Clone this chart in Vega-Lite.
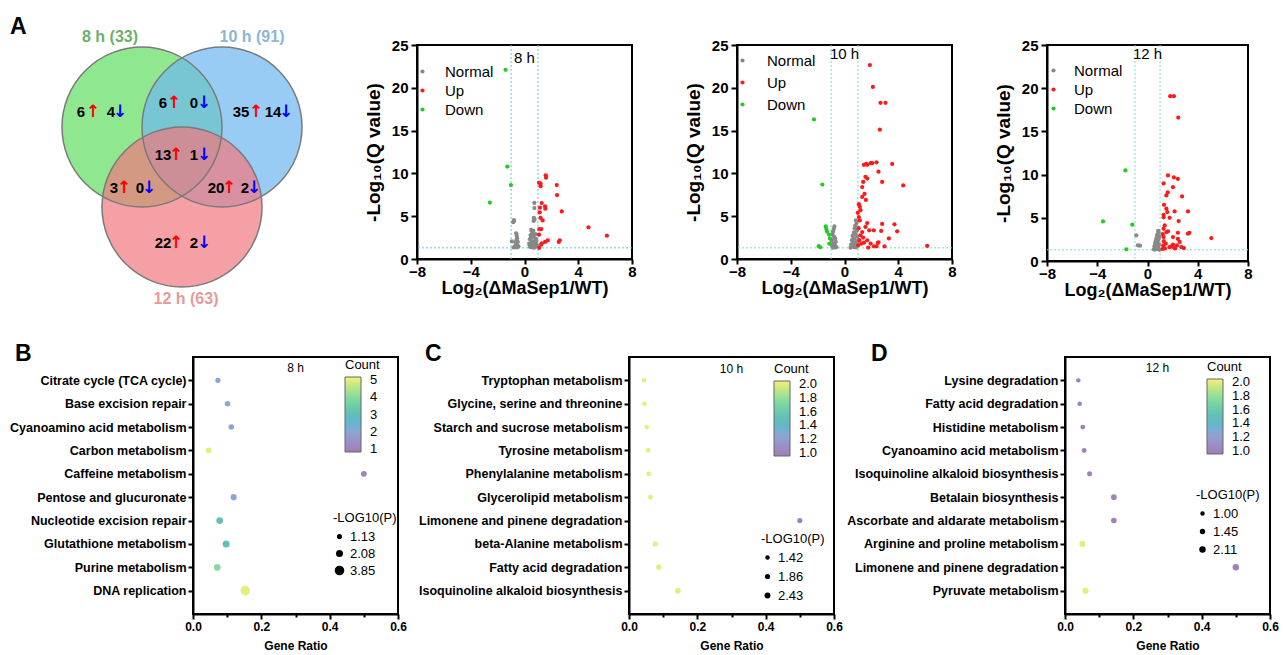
{
  "$schema": "https://vega.github.io/schema/vega-lite/v6.json",
  "background": "white",
  "padding": {"left": 0, "top": 16, "right": 0, "bottom": 0},
  "autosize": {"type": "pad"},
  "bounds": "flush",
  "spacing": 312,
  "resolve": {"scale": {"color": "independent", "size": "independent"}},
  "config": {
    "font": "Liberation Sans",
    "view": {"stroke": null},
    "axis": {"labelColor": "black", "titleColor": "black", "domainColor": "black", "tickColor": "black", "grid": false, "labelFontWeight": "bold", "titleFontWeight": "bold", "labelFont": "Liberation Sans, DejaVu Sans", "titleFont": "Liberation Sans, DejaVu Sans", "labelFlush": false, "labelOverlap": false},
    "legend": {"labelFont": "Liberation Sans", "titleFont": "Liberation Sans", "labelColor": "black", "titleColor": "black", "titleFontWeight": "normal", "labelOverlap": false},
    "title": {"font": "Liberation Sans", "color": "black", "fontWeight": "normal"}
  },
  "datasets": {
    "venn_sets": [
      {"set": "8 h", "u": -0.5, "v": 0.5},
      {"set": "10 h", "u": 0.5, "v": 0.5},
      {"set": "12 h", "u": 0, "v": -0.5}
    ],
    "venn_titles": [
      {"set": "8 h", "label": "8 h (33)", "u": -0.9, "v": 1.625},
      {"set": "10 h", "label": "10 h (91)", "u": 0.875, "v": 1.625},
      {"set": "12 h", "label": "12 h (63)", "u": 0.05, "v": -1.65}
    ],
    "venn_counts": [
      {"n": "6", "u": -1.2625, "v": 0.6875},
      {"n": "4", "u": -0.8875, "v": 0.6875},
      {"n": "6", "u": -0.2375, "v": 0.8},
      {"n": "0", "u": 0.15, "v": 0.8},
      {"n": "35", "u": 0.7375, "v": 0.6875},
      {"n": "14", "u": 1.1375, "v": 0.6875},
      {"n": "13", "u": -0.2375, "v": 0.15},
      {"n": "1", "u": 0.15, "v": 0.15},
      {"n": "3", "u": -0.85, "v": -0.2625},
      {"n": "0", "u": -0.525, "v": -0.2625},
      {"n": "20", "u": 0.425, "v": -0.2625},
      {"n": "2", "u": 0.7875, "v": -0.2625},
      {"n": "22", "u": -0.2375, "v": -0.95},
      {"n": "2", "u": 0.15, "v": -0.95}
    ],
    "venn_arrows": [
      {"dir": "up", "sym": "↑", "u": -1.1125, "v": 0.6875},
      {"dir": "down", "sym": "↓", "u": -0.775, "v": 0.6875},
      {"dir": "up", "sym": "↑", "u": -0.1, "v": 0.8},
      {"dir": "down", "sym": "↓", "u": 0.275, "v": 0.8},
      {"dir": "up", "sym": "↑", "u": 0.925, "v": 0.6875},
      {"dir": "down", "sym": "↓", "u": 1.3, "v": 0.6875},
      {"dir": "up", "sym": "↑", "u": -0.075, "v": 0.15},
      {"dir": "down", "sym": "↓", "u": 0.275, "v": 0.15},
      {"dir": "up", "sym": "↑", "u": -0.725, "v": -0.2625},
      {"dir": "down", "sym": "↓", "u": -0.4125, "v": -0.2625},
      {"dir": "up", "sym": "↑", "u": 0.5875, "v": -0.2625},
      {"dir": "down", "sym": "↓", "u": 0.9, "v": -0.2625},
      {"dir": "up", "sym": "↑", "u": -0.075, "v": -0.95},
      {"dir": "down", "sym": "↓", "u": 0.275, "v": -0.95}
    ],
    "v8": [
      {"x": -0.84, "y": 4.3, "g": "Normal"}, {"x": -0.78, "y": 4.55, "g": "Normal"}, {"x": -0.8, "y": 4.4, "g": "Normal"}, {"x": -0.94, "y": 2.05, "g": "Normal"},
      {"x": -0.62, "y": 3.0, "g": "Normal"}, {"x": -0.58, "y": 2.7, "g": "Normal"}, {"x": -0.55, "y": 2.4, "g": "Normal"}, {"x": -0.6, "y": 2.2, "g": "Normal"},
      {"x": -0.66, "y": 1.9, "g": "Normal"}, {"x": -0.52, "y": 1.6, "g": "Normal"}, {"x": -0.7, "y": 1.5, "g": "Normal"}, {"x": -0.8, "y": 1.35, "g": "Normal"},
      {"x": -0.45, "y": 1.45, "g": "Normal"}, {"x": -0.62, "y": 1.75, "g": "Normal"}, {"x": -0.5, "y": 2.0, "g": "Normal"}, {"x": -0.72, "y": 1.4, "g": "Normal"},
      {"x": -0.56, "y": 1.35, "g": "Normal"},
      {"x": 0.73, "y": 6.55, "g": "Normal"}, {"x": 0.74, "y": 5.95, "g": "Normal"}, {"x": 0.7, "y": 4.8, "g": "Normal"}, {"x": 0.68, "y": 4.45, "g": "Normal"},
      {"x": 0.75, "y": 4.6, "g": "Normal"}, {"x": 0.5, "y": 3.4, "g": "Normal"}, {"x": 0.55, "y": 3.2, "g": "Normal"}, {"x": 0.6, "y": 3.0, "g": "Normal"},
      {"x": 0.45, "y": 2.8, "g": "Normal"}, {"x": 0.65, "y": 2.6, "g": "Normal"}, {"x": 0.8, "y": 2.4, "g": "Normal"}, {"x": 0.4, "y": 2.3, "g": "Normal"},
      {"x": 0.55, "y": 2.1, "g": "Normal"}, {"x": 0.7, "y": 2.0, "g": "Normal"}, {"x": 0.85, "y": 1.9, "g": "Normal"}, {"x": 0.35, "y": 1.8, "g": "Normal"},
      {"x": 0.5, "y": 1.7, "g": "Normal"}, {"x": 0.62, "y": 1.6, "g": "Normal"}, {"x": 0.78, "y": 1.5, "g": "Normal"}, {"x": 0.9, "y": 1.45, "g": "Normal"},
      {"x": 0.42, "y": 1.4, "g": "Normal"}, {"x": 0.58, "y": 1.35, "g": "Normal"}, {"x": 0.72, "y": 1.32, "g": "Normal"}, {"x": 0.95, "y": 1.6, "g": "Normal"},
      {"x": 0.88, "y": 2.2, "g": "Normal"}, {"x": 0.48, "y": 2.5, "g": "Normal"}, {"x": 0.66, "y": 3.3, "g": "Normal"}, {"x": 0.38, "y": 1.55, "g": "Normal"},
      {"x": 0.82, "y": 2.9, "g": "Normal"},
      {"x": -1.41, "y": 22.1, "g": "Down"}, {"x": -1.28, "y": 10.8, "g": "Down"}, {"x": -1.01, "y": 8.64, "g": "Down"}, {"x": -2.58, "y": 6.6, "g": "Down"},
      {"x": 1.58, "y": 9.77, "g": "Up"}, {"x": 1.6, "y": 9.5, "g": "Up"}, {"x": 1.08, "y": 8.9, "g": "Up"}, {"x": 1.2, "y": 8.8, "g": "Up"},
      {"x": 1.2, "y": 8.5, "g": "Up"}, {"x": 2.4, "y": 8.64, "g": "Up"}, {"x": 2.42, "y": 7.47, "g": "Up"}, {"x": 1.28, "y": 6.54, "g": "Up"},
      {"x": 1.15, "y": 6.0, "g": "Up"}, {"x": 1.53, "y": 6.15, "g": "Up"}, {"x": 1.55, "y": 5.88, "g": "Up"}, {"x": 1.13, "y": 5.45, "g": "Up"},
      {"x": 2.77, "y": 5.56, "g": "Up"}, {"x": 1.2, "y": 4.8, "g": "Up"}, {"x": 1.35, "y": 4.5, "g": "Up"}, {"x": 1.1, "y": 3.5, "g": "Up"},
      {"x": 1.25, "y": 3.5, "g": "Up"}, {"x": 4.76, "y": 3.7, "g": "Up"}, {"x": 6.13, "y": 2.72, "g": "Up"}, {"x": 1.08, "y": 2.84, "g": "Up"},
      {"x": 1.73, "y": 2.18, "g": "Up"}, {"x": 1.53, "y": 2.0, "g": "Up"}, {"x": 1.28, "y": 1.83, "g": "Up"}, {"x": 2.62, "y": 2.18, "g": "Up"},
      {"x": 2.55, "y": 2.0, "g": "Up"}, {"x": 1.1, "y": 1.3, "g": "Up"}, {"x": 1.25, "y": 1.67, "g": "Up"}
    ],
    "v10": [
      {"x": -0.75, "y": 3.8, "g": "Normal"}, {"x": -0.8, "y": 3.5, "g": "Normal"}, {"x": -0.85, "y": 3.2, "g": "Normal"}, {"x": -0.9, "y": 2.9, "g": "Normal"},
      {"x": -0.78, "y": 2.6, "g": "Normal"}, {"x": -0.7, "y": 2.4, "g": "Normal"}, {"x": -0.95, "y": 2.2, "g": "Normal"}, {"x": -0.65, "y": 2.0, "g": "Normal"},
      {"x": -0.82, "y": 1.8, "g": "Normal"}, {"x": -0.72, "y": 1.6, "g": "Normal"}, {"x": -0.9, "y": 1.5, "g": "Normal"}, {"x": -0.6, "y": 1.4, "g": "Normal"},
      {"x": -0.68, "y": 1.35, "g": "Normal"}, {"x": -0.85, "y": 1.32, "g": "Normal"}, {"x": -0.98, "y": 1.7, "g": "Normal"},
      {"x": 0.85, "y": 4.5, "g": "Normal"}, {"x": 0.9, "y": 4.2, "g": "Normal"}, {"x": 0.8, "y": 3.9, "g": "Normal"}, {"x": 0.75, "y": 3.6, "g": "Normal"},
      {"x": 0.92, "y": 3.3, "g": "Normal"}, {"x": 0.7, "y": 3.1, "g": "Normal"}, {"x": 0.82, "y": 2.9, "g": "Normal"}, {"x": 0.6, "y": 2.7, "g": "Normal"},
      {"x": 0.95, "y": 2.6, "g": "Normal"}, {"x": 0.72, "y": 2.4, "g": "Normal"}, {"x": 0.55, "y": 2.2, "g": "Normal"}, {"x": 0.88, "y": 2.1, "g": "Normal"},
      {"x": 0.65, "y": 1.9, "g": "Normal"}, {"x": 0.78, "y": 1.8, "g": "Normal"}, {"x": 0.5, "y": 1.7, "g": "Normal"}, {"x": 0.92, "y": 1.6, "g": "Normal"},
      {"x": 0.6, "y": 1.5, "g": "Normal"}, {"x": 0.7, "y": 1.4, "g": "Normal"}, {"x": 0.85, "y": 1.35, "g": "Normal"}, {"x": 0.45, "y": 1.32, "g": "Normal"},
      {"x": 0.98, "y": 1.9, "g": "Normal"}, {"x": 0.62, "y": 1.65, "g": "Normal"},
      {"x": -2.27, "y": 16.3, "g": "Down"}, {"x": -1.65, "y": 8.7, "g": "Down"}, {"x": -1.4, "y": 3.8, "g": "Down"}, {"x": -1.35, "y": 3.5, "g": "Down"},
      {"x": -1.3, "y": 3.2, "g": "Down"}, {"x": -1.15, "y": 2.85, "g": "Down"}, {"x": -1.08, "y": 2.4, "g": "Down"}, {"x": -1.13, "y": 1.8, "g": "Down"},
      {"x": -1.92, "y": 1.5, "g": "Down"}, {"x": -1.8, "y": 1.37, "g": "Down"},
      {"x": 1.89, "y": 22.66, "g": "Up"}, {"x": 2.11, "y": 20.1, "g": "Up"}, {"x": 2.68, "y": 18.25, "g": "Up"}, {"x": 3.05, "y": 18.25, "g": "Up"},
      {"x": 2.63, "y": 15.1, "g": "Up"}, {"x": 1.44, "y": 11.0, "g": "Up"}, {"x": 1.61, "y": 11.1, "g": "Up"}, {"x": 1.94, "y": 11.2, "g": "Up"},
      {"x": 2.06, "y": 11.2, "g": "Up"}, {"x": 2.38, "y": 11.3, "g": "Up"}, {"x": 1.69, "y": 11.0, "g": "Up"}, {"x": 3.55, "y": 11.1, "g": "Up"},
      {"x": 2.53, "y": 10.2, "g": "Up"}, {"x": 1.56, "y": 9.6, "g": "Up"}, {"x": 1.69, "y": 9.4, "g": "Up"}, {"x": 1.39, "y": 9.0, "g": "Up"},
      {"x": 1.32, "y": 8.4, "g": "Up"}, {"x": 2.8, "y": 9.0, "g": "Up"}, {"x": 4.37, "y": 8.6, "g": "Up"}, {"x": 1.49, "y": 7.6, "g": "Up"},
      {"x": 1.32, "y": 7.25, "g": "Up"}, {"x": 1.59, "y": 6.9, "g": "Up"}, {"x": 1.07, "y": 6.4, "g": "Up"}, {"x": 1.14, "y": 6.1, "g": "Up"},
      {"x": 1.19, "y": 5.7, "g": "Up"}, {"x": 0.99, "y": 5.4, "g": "Up"}, {"x": 1.07, "y": 4.9, "g": "Up"}, {"x": 1.14, "y": 4.5, "g": "Up"},
      {"x": 1.69, "y": 4.2, "g": "Up"}, {"x": 1.56, "y": 3.75, "g": "Up"}, {"x": 1.84, "y": 3.35, "g": "Up"}, {"x": 1.32, "y": 3.15, "g": "Up"},
      {"x": 2.18, "y": 3.35, "g": "Up"}, {"x": 2.8, "y": 4.1, "g": "Up"}, {"x": 3.72, "y": 4.05, "g": "Up"}, {"x": 3.92, "y": 3.24, "g": "Up"},
      {"x": 3.3, "y": 2.4, "g": "Up"}, {"x": 2.73, "y": 3.28, "g": "Up"}, {"x": 1.19, "y": 2.77, "g": "Up"}, {"x": 1.39, "y": 2.5, "g": "Up"},
      {"x": 1.69, "y": 2.18, "g": "Up"}, {"x": 1.27, "y": 1.8, "g": "Up"}, {"x": 1.94, "y": 1.8, "g": "Up"}, {"x": 2.18, "y": 1.48, "g": "Up"},
      {"x": 2.53, "y": 1.95, "g": "Up"}, {"x": 1.76, "y": 1.33, "g": "Up"}, {"x": 2.38, "y": 1.48, "g": "Up"}, {"x": 2.98, "y": 1.48, "g": "Up"},
      {"x": 6.15, "y": 1.52, "g": "Up"}, {"x": 2.48, "y": 1.87, "g": "Up"}, {"x": 1.05, "y": 3.6, "g": "Up"}, {"x": 1.1, "y": 2.2, "g": "Up"},
      {"x": 1.02, "y": 1.6, "g": "Up"}, {"x": 1.45, "y": 1.9, "g": "Up"}
    ],
    "v12": [
      {"x": -0.89, "y": 2.97, "g": "Normal"}, {"x": -0.76, "y": 1.81, "g": "Normal"}, {"x": -0.6, "y": 1.77, "g": "Normal"},
      {"x": 0.85, "y": 3.5, "g": "Normal"}, {"x": 0.9, "y": 3.3, "g": "Normal"}, {"x": 0.8, "y": 3.1, "g": "Normal"}, {"x": 0.75, "y": 2.9, "g": "Normal"},
      {"x": 0.95, "y": 2.8, "g": "Normal"}, {"x": 0.7, "y": 2.6, "g": "Normal"}, {"x": 0.88, "y": 2.5, "g": "Normal"}, {"x": 0.65, "y": 2.3, "g": "Normal"},
      {"x": 0.8, "y": 2.2, "g": "Normal"}, {"x": 0.6, "y": 2.0, "g": "Normal"}, {"x": 0.92, "y": 1.9, "g": "Normal"}, {"x": 0.72, "y": 1.8, "g": "Normal"},
      {"x": 0.55, "y": 1.7, "g": "Normal"}, {"x": 0.85, "y": 1.6, "g": "Normal"}, {"x": 0.65, "y": 1.5, "g": "Normal"}, {"x": 0.78, "y": 1.4, "g": "Normal"},
      {"x": 0.5, "y": 1.35, "g": "Normal"}, {"x": 0.95, "y": 1.3, "g": "Normal"}, {"x": 0.6, "y": 1.32, "g": "Normal"}, {"x": 0.7, "y": 1.45, "g": "Normal"},
      {"x": -1.76, "y": 10.48, "g": "Down"}, {"x": -3.54, "y": 4.58, "g": "Down"}, {"x": -1.21, "y": 4.2, "g": "Down"}, {"x": -1.68, "y": 1.35, "g": "Down"},
      {"x": 1.81, "y": 19.07, "g": "Up"}, {"x": 2.1, "y": 19.07, "g": "Up"}, {"x": 2.45, "y": 16.6, "g": "Up"}, {"x": 1.63, "y": 9.9, "g": "Up"},
      {"x": 2.1, "y": 9.67, "g": "Up"}, {"x": 2.42, "y": 9.5, "g": "Up"}, {"x": 1.28, "y": 8.98, "g": "Up"}, {"x": 2.03, "y": 8.55, "g": "Up"},
      {"x": 1.61, "y": 7.93, "g": "Up"}, {"x": 1.5, "y": 7.59, "g": "Up"}, {"x": 2.75, "y": 7.47, "g": "Up"}, {"x": 1.31, "y": 6.5, "g": "Up"},
      {"x": 1.5, "y": 6.05, "g": "Up"}, {"x": 1.58, "y": 5.66, "g": "Up"}, {"x": 2.16, "y": 5.74, "g": "Up"}, {"x": 1.76, "y": 5.0, "g": "Up"},
      {"x": 3.22, "y": 5.74, "g": "Up"}, {"x": 1.28, "y": 5.35, "g": "Up"}, {"x": 1.28, "y": 5.05, "g": "Up"}, {"x": 2.48, "y": 4.62, "g": "Up"},
      {"x": 1.37, "y": 4.12, "g": "Up"}, {"x": 1.28, "y": 3.74, "g": "Up"}, {"x": 1.5, "y": 3.35, "g": "Up"}, {"x": 1.63, "y": 3.43, "g": "Up"},
      {"x": 3.33, "y": 3.27, "g": "Up"}, {"x": 3.22, "y": 3.16, "g": "Up"}, {"x": 2.03, "y": 2.77, "g": "Up"}, {"x": 2.42, "y": 3.27, "g": "Up"},
      {"x": 1.28, "y": 2.77, "g": "Up"}, {"x": 2.42, "y": 2.55, "g": "Up"}, {"x": 2.56, "y": 2.2, "g": "Up"}, {"x": 2.03, "y": 1.9, "g": "Up"},
      {"x": 2.35, "y": 1.8, "g": "Up"}, {"x": 2.7, "y": 1.6, "g": "Up"}, {"x": 2.9, "y": 1.5, "g": "Up"}, {"x": 2.2, "y": 1.45, "g": "Up"},
      {"x": 1.75, "y": 1.6, "g": "Up"}, {"x": 1.38, "y": 1.45, "g": "Up"}, {"x": 1.2, "y": 1.4, "g": "Up"}, {"x": 1.9, "y": 1.7, "g": "Up"},
      {"x": 2.1, "y": 1.55, "g": "Up"}, {"x": 5.08, "y": 2.66, "g": "Up"}, {"x": 1.22, "y": 3.1, "g": "Up"}, {"x": 1.3, "y": 2.3, "g": "Up"},
      {"x": 1.25, "y": 1.8, "g": "Up"}, {"x": 1.45, "y": 2.0, "g": "Up"}
    ],
    "b8": [
      {"pathway": "Citrate cycle (TCA cycle)", "ratio": 0.073, "count": 2, "p": 1.15},
      {"pathway": "Base excision repair", "ratio": 0.101, "count": 2, "p": 1.3},
      {"pathway": "Cyanoamino acid metabolism", "ratio": 0.112, "count": 2, "p": 1.3},
      {"pathway": "Carbon metabolism", "ratio": 0.046, "count": 5, "p": 1.4},
      {"pathway": "Caffeine metabolism", "ratio": 0.5, "count": 1, "p": 1.4},
      {"pathway": "Pentose and glucuronate ", "ratio": 0.119, "count": 2, "p": 1.6},
      {"pathway": "Nucleotide excision repair", "ratio": 0.078, "count": 3, "p": 1.9},
      {"pathway": "Glutathione metabolism", "ratio": 0.097, "count": 3, "p": 2.08},
      {"pathway": "Purine metabolism", "ratio": 0.071, "count": 4, "p": 1.9},
      {"pathway": "DNA replication", "ratio": 0.153, "count": 5, "p": 3.85}
    ],
    "c10": [
      {"pathway": "Tryptophan metabolism", "ratio": 0.044, "count": 2, "p": 1.42},
      {"pathway": "Glycine, serine and threonine", "ratio": 0.045, "count": 2, "p": 1.45},
      {"pathway": "Starch and sucrose metabolism", "ratio": 0.052, "count": 2, "p": 1.55},
      {"pathway": "Tyrosine metabolism", "ratio": 0.056, "count": 2, "p": 1.6},
      {"pathway": "Phenylalanine metabolism", "ratio": 0.058, "count": 2, "p": 1.65},
      {"pathway": "Glycerolipid metabolism", "ratio": 0.063, "count": 2, "p": 1.7},
      {"pathway": "Limonene and pinene degradation", "ratio": 0.5, "count": 1, "p": 1.86},
      {"pathway": "beta-Alanine metabolism", "ratio": 0.077, "count": 2, "p": 1.86},
      {"pathway": "Fatty acid degradation", "ratio": 0.087, "count": 2, "p": 1.95},
      {"pathway": "Isoquinoline alkaloid biosynthesis", "ratio": 0.143, "count": 2, "p": 2.43}
    ],
    "d12": [
      {"pathway": "Lysine degradation", "ratio": 0.039, "count": 1, "p": 1.0},
      {"pathway": "Fatty acid degradation", "ratio": 0.043, "count": 1, "p": 1.05},
      {"pathway": "Histidine metabolism ", "ratio": 0.052, "count": 1, "p": 1.15},
      {"pathway": "Cyanoamino acid metabolism", "ratio": 0.056, "count": 1, "p": 1.2},
      {"pathway": "Isoquinoline alkaloid biosynthesis", "ratio": 0.072, "count": 1, "p": 1.3},
      {"pathway": "Betalain biosynthesis", "ratio": 0.143, "count": 1, "p": 1.6},
      {"pathway": "Ascorbate and aldarate metabolism", "ratio": 0.143, "count": 1, "p": 1.6},
      {"pathway": "Arginine and proline metabolism", "ratio": 0.051, "count": 2, "p": 1.9},
      {"pathway": "Limonene and pinene degradation", "ratio": 0.5, "count": 1, "p": 2.11},
      {"pathway": "Pyruvate metabolism", "ratio": 0.06, "count": 2, "p": 2.0}
    ]
  },
  "vconcat": [
    {
      "hconcat": [
        {
          "hconcat": [
            {
              "width": 312, "height": 265,
              "title": {"text": "A", "anchor": "start", "frame": "group", "fontSize": 23, "fontWeight": "bold", "dx": 10, "offset": -10},
              "view": {"stroke": null},
              "layer": [
                {
                  "data": {"name": "venn_sets"},
                  "mark": {"type": "point", "shape": "circle", "filled": true, "size": 25600, "fillOpacity": 0.7, "strokeWidth": 0},
                  "encoding": {
                    "x": {"field": "u", "type": "quantitative", "scale": {"domain": [-2.275, 1.625], "nice": false, "zero": false}, "axis": null},
                    "y": {"field": "v", "type": "quantitative", "scale": {"domain": [-1.7875, 1.525], "nice": false, "zero": false}, "axis": null},
                    "fill": {"field": "set", "type": "nominal", "scale": {"domain": ["8 h", "10 h", "12 h"], "range": ["#60DE60", "#6DB6F1", "#F1777E"]}, "legend": null}
                  }
                },
                {
                  "data": {"name": "venn_sets"},
                  "mark": {"type": "point", "shape": "circle", "filled": false, "size": 25600, "stroke": "#7a7a7a", "strokeWidth": 1.5, "opacity": 1},
                  "encoding": {
                    "x": {"field": "u", "type": "quantitative"},
                    "y": {"field": "v", "type": "quantitative"}
                  }
                },
                {
                  "data": {"name": "venn_titles"},
                  "mark": {"type": "text", "fontSize": 16, "fontWeight": "bold", "font": "Liberation Sans"},
                  "encoding": {
                    "x": {"field": "u", "type": "quantitative"},
                    "y": {"field": "v", "type": "quantitative"},
                    "text": {"field": "label"},
                    "color": {"field": "set", "type": "nominal", "scale": {"domain": ["8 h", "10 h", "12 h"], "range": ["#6DAF6D", "#8DB5D6", "#E8999C"]}, "legend": null}
                  }
                },
                {
                  "data": {"name": "venn_counts"},
                  "mark": {"type": "text", "fontSize": 15, "fontWeight": "bold", "font": "Liberation Sans", "color": "black"},
                  "encoding": {
                    "x": {"field": "u", "type": "quantitative"},
                    "y": {"field": "v", "type": "quantitative"},
                    "text": {"field": "n"}
                  }
                },
                {
                  "data": {"name": "venn_arrows"},
                  "mark": {"type": "text", "fontSize": 17, "fontWeight": "bold", "font": "DejaVu Sans"},
                  "encoding": {
                    "x": {"field": "u", "type": "quantitative"},
                    "y": {"field": "v", "type": "quantitative"},
                    "text": {"field": "sym"},
                    "color": {"field": "dir", "type": "nominal", "scale": {"domain": ["up", "down"], "range": ["#ff0000", "#0000ff"]}, "legend": null}
                  }
                }
              ],
              "resolve": {"scale": {"color": "independent", "fill": "independent"}}
            },
            {
              "width": 215, "height": 214,
              "title": {"text": "8 h", "fontSize": 15, "offset": -28},
              "view": {"stroke": "black", "strokeWidth": 2},
              "layer": [
                {
                  "data": {"values": [{"x": -1}, {"x": 1}]},
                  "mark": {"type": "rule", "color": "#62c6d8", "strokeDash": [2, 2], "strokeWidth": 1},
                  "encoding": {"x": {"field": "x", "type": "quantitative"}}
                },
                {
                  "data": {"values": [{"y": 1.3}]},
                  "mark": {"type": "rule", "color": "#62c6d8", "strokeDash": [2, 2], "strokeWidth": 1},
                  "encoding": {"y": {"field": "y", "type": "quantitative"}}
                },
                {
                  "data": {"name": "v8"},
                  "mark": {"type": "point", "filled": true, "size": 18, "opacity": 1},
                  "encoding": {
                    "x": {"field": "x", "type": "quantitative", "scale": {"domain": [-8, 8], "nice": false}, "axis": {"values": [-8, -4, 0, 4, 8], "title": "Log₂(ΔMaSep1/WT)", "labelFontSize": 15, "titleFontSize": 18, "tickSize": 5, "tickWidth": 2, "domainWidth": 2, "labelPadding": 0, "titlePadding": 0}},
                    "y": {"field": "y", "type": "quantitative", "scale": {"domain": [0, 25], "nice": false}, "axis": {"values": [0, 5, 10, 15, 20, 25], "title": "-Log₁₀(Q value)", "labelFontSize": 15, "titleFontSize": 19, "tickSize": 6, "tickWidth": 2, "domainWidth": 2, "labelPadding": 3, "titlePadding": 8}},
                    "color": {"field": "g", "type": "nominal", "scale": {"domain": ["Normal", "Up", "Down"], "range": ["#888888", "#ff1a1a", "#22cc22"]}, "legend": {"title": null, "orient": "none", "legendX": -2, "legendY": 19, "labelFontSize": 15, "symbolSize": 18, "symbolType": "circle", "labelOffset": 15, "rowPadding": 3, "padding": 0}}
                  }
                }
              ]
            },
            {
              "width": 215, "height": 214,
              "title": {"text": "10 h", "fontSize": 15, "offset": -24},
              "view": {"stroke": "black", "strokeWidth": 2},
              "layer": [
                {
                  "data": {"values": [{"x": -1}, {"x": 1}]},
                  "mark": {"type": "rule", "color": "#6fdcc8", "strokeDash": [2, 2], "strokeWidth": 1},
                  "encoding": {"x": {"field": "x", "type": "quantitative"}}
                },
                {
                  "data": {"values": [{"y": 1.3}]},
                  "mark": {"type": "rule", "color": "#6fdcc8", "strokeDash": [2, 2], "strokeWidth": 1},
                  "encoding": {"y": {"field": "y", "type": "quantitative"}}
                },
                {
                  "data": {"name": "v10"},
                  "mark": {"type": "point", "filled": true, "size": 18, "opacity": 1},
                  "encoding": {
                    "x": {"field": "x", "type": "quantitative", "scale": {"domain": [-8, 8], "nice": false}, "axis": {"values": [-8, -4, 0, 4, 8], "title": "Log₂(ΔMaSep1/WT)", "labelFontSize": 15, "titleFontSize": 18, "tickSize": 5, "tickWidth": 2, "domainWidth": 2, "labelPadding": 0, "titlePadding": 0}},
                    "y": {"field": "y", "type": "quantitative", "scale": {"domain": [0, 25], "nice": false}, "axis": {"values": [0, 5, 10, 15, 20, 25], "title": "-Log₁₀(Q value)", "labelFontSize": 15, "titleFontSize": 19, "tickSize": 6, "tickWidth": 2, "domainWidth": 2, "labelPadding": 3, "titlePadding": 8}},
                    "color": {"field": "g", "type": "nominal", "scale": {"domain": ["Normal", "Up", "Down"], "range": ["#888888", "#ff1a1a", "#22cc22"]}, "legend": {"title": null, "orient": "none", "legendX": -2, "legendY": 8, "labelFontSize": 15, "symbolSize": 18, "symbolType": "circle", "labelOffset": 17, "rowPadding": 6, "padding": 0}}
                  }
                }
              ]
            }
          ],
          "spacing": 105,
          "bounds": "flush",
          "resolve": {"scale": {"color": "independent", "size": "independent"}}
        },
        {
          "width": 201, "height": 216,
          "title": {"text": "12 h", "fontSize": 15, "offset": -24},
          "view": {"stroke": "black", "strokeWidth": 2},
          "layer": [
            {
              "data": {"values": [{"x": -1}, {"x": 1}]},
              "mark": {"type": "rule", "color": "#7ee0d0", "strokeDash": [2, 2], "strokeWidth": 1},
              "encoding": {"x": {"field": "x", "type": "quantitative"}}
            },
            {
              "data": {"values": [{"y": 1.3}]},
              "mark": {"type": "rule", "color": "#7ee0d0", "strokeDash": [2, 2], "strokeWidth": 1},
              "encoding": {"y": {"field": "y", "type": "quantitative"}}
            },
            {
              "data": {"name": "v12"},
              "mark": {"type": "point", "filled": true, "size": 18, "opacity": 1},
              "encoding": {
                "x": {"field": "x", "type": "quantitative", "scale": {"domain": [-8, 8], "nice": false}, "axis": {"values": [-8, -4, 0, 4, 8], "title": "Log₂(ΔMaSep1/WT)", "labelFontSize": 15, "titleFontSize": 18, "tickSize": 5, "tickWidth": 2, "domainWidth": 2, "labelPadding": 0, "titlePadding": 0}},
                "y": {"field": "y", "type": "quantitative", "scale": {"domain": [0, 25], "nice": false}, "axis": {"values": [0, 5, 10, 15, 20, 25], "title": "-Log₁₀(Q value)", "labelFontSize": 15, "titleFontSize": 19, "tickSize": 6, "tickWidth": 2, "domainWidth": 2, "labelPadding": 3, "titlePadding": 8}},
                "color": {"field": "g", "type": "nominal", "scale": {"domain": ["Normal", "Up", "Down"], "range": ["#888888", "#ff1a1a", "#22cc22"]}, "legend": {"title": null, "orient": "none", "legendX": -1, "legendY": 18, "labelFontSize": 15, "symbolSize": 18, "symbolType": "circle", "labelOffset": 13, "rowPadding": 3, "padding": 0}}
              }
            }
          ]
        }
      ],
      "spacing": 1047,
      "bounds": "flush",
      "resolve": {"scale": {"color": "independent", "size": "independent"}}
    },
    {
      "hconcat": [
        {
          "width": 173, "height": 10,
          "view": {"stroke": null},
          "data": {"values": []},
          "mark": "point"
        },
        {
          "hconcat": [
            {
              "title": {"text": "B", "anchor": "start", "frame": "group", "fontSize": 23, "fontWeight": "bold", "dx": -178, "offset": -10},
              "bounds": "flush",
              "resolve": {"scale": {"color": "independent", "size": "independent"}},
              "vconcat": [
                {
                  "width": 205, "height": 257,
                  "title": {"text": "8 h", "fontSize": 12, "offset": -18},
                  "view": {"stroke": "black", "strokeWidth": 2},
                  "data": {"name": "b8"},
                  "mark": {"type": "circle", "opacity": 1},
                  "encoding": {
                    "x": {"field": "ratio", "type": "quantitative", "scale": {"domain": [0, 0.6], "nice": false}, "axis": {"values": [0, 0.1, 0.2, 0.3, 0.4, 0.5, 0.6], "labelExpr": "round(datum.value * 10) % 2 === 1 ? '' : format(datum.value, '.1f')", "tickSize": {"condition": {"test": "round(datum.value * 10) % 2 === 1", "value": 3}, "value": 5}, "title": "Gene Ratio", "labelFontSize": 12, "titleFontSize": 12, "tickWidth": 2, "domainWidth": 2, "titlePadding": 8}},
                    "y": {"field": "pathway", "type": "nominal", "sort": null, "scale": {"type": "point", "padding": 1}, "axis": {"title": null, "labelFontSize": 12.5, "tickSize": 5, "tickWidth": 2, "domainWidth": 2, "labelPadding": 2, "labelLimit": 300}},
                    "color": {"field": "count", "type": "quantitative", "scale": {"domain": [0.84, 5.16], "range": ["#a27cb4", "#93a2d0", "#62bfb4", "#8cdc9a", "#f6ee7e"]}, "legend": {"title": "Count", "orient": "none", "legendX": 152, "legendY": 2, "direction": "vertical", "gradientLength": 75, "gradientThickness": 16, "values": [1, 2, 3, 4, 5], "format": "d", "labelFontSize": 13, "titleFontSize": 13, "labelOffset": 9, "gradientStrokeColor": "#666666", "gradientStrokeWidth": 1, "titlePadding": 5, "padding": 0}},
                    "size": {"field": "p", "type": "quantitative", "scale": {"domain": [0, 4], "range": [0, 95]}, "legend": {"title": "-LOG10(P)", "orient": "none", "legendX": 140, "legendY": 155, "values": [1.13, 2.08, 3.85], "format": ".2f", "symbolFillColor": "black", "symbolStrokeColor": "black", "symbolStrokeWidth": 0, "symbolType": "circle", "labelFontSize": 13, "titleFontSize": 13, "rowPadding": 3, "padding": 0}}
                  }
                }
              ]
            },
            {
              "title": {"text": "C", "anchor": "start", "frame": "group", "fontSize": 23, "fontWeight": "bold", "dx": -204, "offset": -10},
              "bounds": "flush",
              "resolve": {"scale": {"color": "independent", "size": "independent"}},
              "vconcat": [
                {
                  "width": 205, "height": 257,
                  "title": {"text": "10 h", "fontSize": 12, "offset": -19},
                  "view": {"stroke": "black", "strokeWidth": 2},
                  "data": {"name": "c10"},
                  "mark": {"type": "circle", "opacity": 1},
                  "encoding": {
                    "x": {"field": "ratio", "type": "quantitative", "scale": {"domain": [0, 0.6], "nice": false}, "axis": {"values": [0, 0.1, 0.2, 0.3, 0.4, 0.5, 0.6], "labelExpr": "round(datum.value * 10) % 2 === 1 ? '' : format(datum.value, '.1f')", "tickSize": {"condition": {"test": "round(datum.value * 10) % 2 === 1", "value": 3}, "value": 5}, "title": "Gene Ratio", "labelFontSize": 12, "titleFontSize": 12, "tickWidth": 2, "domainWidth": 2, "titlePadding": 8}},
                    "y": {"field": "pathway", "type": "nominal", "sort": null, "scale": {"type": "point", "padding": 1}, "axis": {"title": null, "labelFontSize": 12.5, "tickSize": 5, "tickWidth": 2, "domainWidth": 2, "labelPadding": 2, "labelLimit": 300}},
                    "color": {"field": "count", "type": "quantitative", "scale": {"domain": [0.96, 2.04], "range": ["#a27cb4", "#93a2d0", "#62bfb4", "#8cdc9a", "#f6ee7e"]}, "legend": {"title": "Count", "orient": "none", "legendX": 145, "legendY": 6, "direction": "vertical", "gradientLength": 75, "gradientThickness": 16, "values": [1, 1.2, 1.4, 1.6, 1.8, 2], "format": ".1f", "labelFontSize": 13, "titleFontSize": 13, "labelOffset": 9, "gradientStrokeColor": "#666666", "gradientStrokeWidth": 1, "titlePadding": 5, "padding": 0}},
                    "size": {"field": "p", "type": "quantitative", "scale": {"domain": [0, 2.5], "range": [0, 36]}, "legend": {"title": "-LOG10(P)", "orient": "none", "legendX": 132, "legendY": 176, "values": [1.42, 1.86, 2.43], "format": ".2f", "symbolFillColor": "black", "symbolStrokeColor": "black", "symbolStrokeWidth": 0, "symbolType": "circle", "labelFontSize": 13, "titleFontSize": 13, "rowPadding": 5, "padding": 0}}
                  }
                }
              ]
            },
            {
              "title": {"text": "D", "anchor": "start", "frame": "group", "fontSize": 23, "fontWeight": "bold", "dx": -194, "offset": -10},
              "bounds": "flush",
              "resolve": {"scale": {"color": "independent", "size": "independent"}},
              "vconcat": [
                {
                  "width": 205, "height": 257,
                  "title": {"text": "12 h", "fontSize": 12, "offset": -18, "dx": -10},
                  "view": {"stroke": "black", "strokeWidth": 2},
                  "data": {"name": "d12"},
                  "mark": {"type": "circle", "opacity": 1},
                  "encoding": {
                    "x": {"field": "ratio", "type": "quantitative", "scale": {"domain": [0, 0.6], "nice": false}, "axis": {"values": [0, 0.1, 0.2, 0.3, 0.4, 0.5, 0.6], "labelExpr": "round(datum.value * 10) % 2 === 1 ? '' : format(datum.value, '.1f')", "tickSize": {"condition": {"test": "round(datum.value * 10) % 2 === 1", "value": 3}, "value": 5}, "title": "Gene Ratio", "labelFontSize": 12, "titleFontSize": 12, "tickWidth": 2, "domainWidth": 2, "titlePadding": 8}},
                    "y": {"field": "pathway", "type": "nominal", "sort": null, "scale": {"type": "point", "padding": 1}, "axis": {"title": null, "labelFontSize": 12.5, "tickSize": 5, "tickWidth": 2, "domainWidth": 2, "labelPadding": 2, "labelLimit": 300}},
                    "color": {"field": "count", "type": "quantitative", "scale": {"domain": [0.96, 2.04], "range": ["#a27cb4", "#93a2d0", "#62bfb4", "#8cdc9a", "#f6ee7e"]}, "legend": {"title": "Count", "orient": "none", "legendX": 142, "legendY": 4, "direction": "vertical", "gradientLength": 75, "gradientThickness": 16, "values": [1, 1.2, 1.4, 1.6, 1.8, 2], "format": ".1f", "labelFontSize": 13, "titleFontSize": 13, "labelOffset": 9, "gradientStrokeColor": "#666666", "gradientStrokeWidth": 1, "titlePadding": 5, "padding": 0}},
                    "size": {"field": "p", "type": "quantitative", "scale": {"domain": [0, 2.2], "range": [0, 44]}, "legend": {"title": "-LOG10(P)", "orient": "none", "legendX": 131, "legendY": 132, "values": [1, 1.45, 2.11], "format": ".2f", "symbolFillColor": "black", "symbolStrokeColor": "black", "symbolStrokeWidth": 0, "symbolType": "circle", "labelFontSize": 13, "titleFontSize": 13, "rowPadding": 4, "padding": 0}}
                  }
                }
              ]
            }
          ],
          "spacing": 436,
          "bounds": "flush",
          "resolve": {"scale": {"color": "independent", "size": "independent"}}
        }
      ],
      "spacing": 20,
      "bounds": "flush",
      "resolve": {"scale": {"color": "independent", "size": "independent"}}
    }
  ]
}
